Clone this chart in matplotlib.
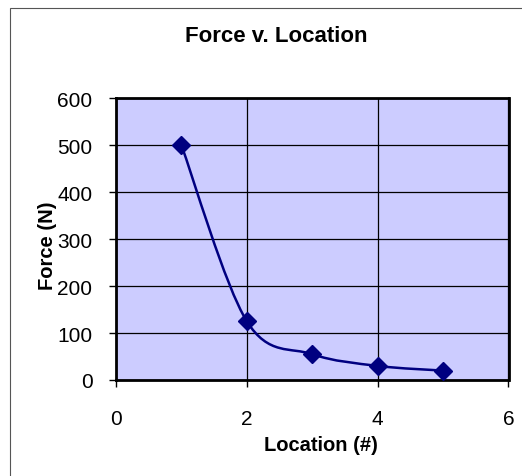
import numpy as np
from matplotlib import pyplot as plt
from matplotlib.path import Path
from matplotlib.patches import PathPatch, Rectangle

plt.rcParams['font.family'] = ['Liberation Sans', 'DejaVu Sans']

location = [1, 2, 3, 4, 5]
force = [500, 125, 55, 30, 20]
x_ticks = [0, 2, 4, 6]
y_ticks = [0, 100, 200, 300, 400, 500, 600]

navy = '#000080'


def smooth_path(xs, ys):
    # Excel-like smoothed line: bezier segments with catmull-rom tangents
    pts = np.column_stack([xs, ys]).astype(float)
    padded = np.vstack([pts[0], pts, pts[-1]])
    verts = [pts[0]]
    codes = [Path.MOVETO]
    for i in range(1, len(padded) - 2):
        p0, p1, p2, p3 = padded[i - 1], padded[i], padded[i + 1], padded[i + 2]
        verts += [p1 + (p2 - p0) / 6.0, p2 - (p3 - p1) / 6.0, p2]
        codes += [Path.CURVE4] * 3
    return Path(verts, codes)


fig = plt.figure(figsize=(5.22, 4.77), dpi=100)
fig.patches.append(Rectangle((10 / 522, -0.1), 1.2, 1 - 9 / 477 + 0.1, transform=fig.transFigure,
                             fill=False, edgecolor='#555555', linewidth=0.8))

axes = fig.add_axes([116 / 522, 1 - 381 / 477, (508.5 - 116) / 522, (381 - 99.3) / 477])
axes.set_facecolor('#CCCCFF')
axes.set_xlim(0, 6)
axes.set_ylim(0, 600)
axes.set_xticks(x_ticks)
axes.set_yticks(y_ticks)
axes.grid(True, color='black', linewidth=0.9)
axes.set_axisbelow(True)
for side in axes.spines.values():
    side.set_linewidth(2.0)
    side.set_color('black')
axes.tick_params(direction='out', length=5, width=1, labelsize=15)
axes.tick_params(axis='y', pad=12)
axes.tick_params(axis='x', pad=16)

axes.add_patch(PathPatch(smooth_path(location, force), fill=False, edgecolor=navy, linewidth=1.8, zorder=3))
axes.plot(location, force, linestyle='none', marker='D', markersize=9.5, color=navy, zorder=4)

axes.set_xlabel('Location (#)', fontsize=14.5, fontweight='bold')
axes.set_ylabel('Force (N)', fontsize=14.5, fontweight='bold')
axes.xaxis.set_label_coords(0.521, -0.195)
axes.yaxis.set_label_coords(-0.15, 0.479)
fig.text(276 / 522, 1 - 36 / 477, 'Force v. Location', ha='center', va='center',
         fontsize=16, fontweight='bold')

fig.savefig('out.png', dpi=100)
